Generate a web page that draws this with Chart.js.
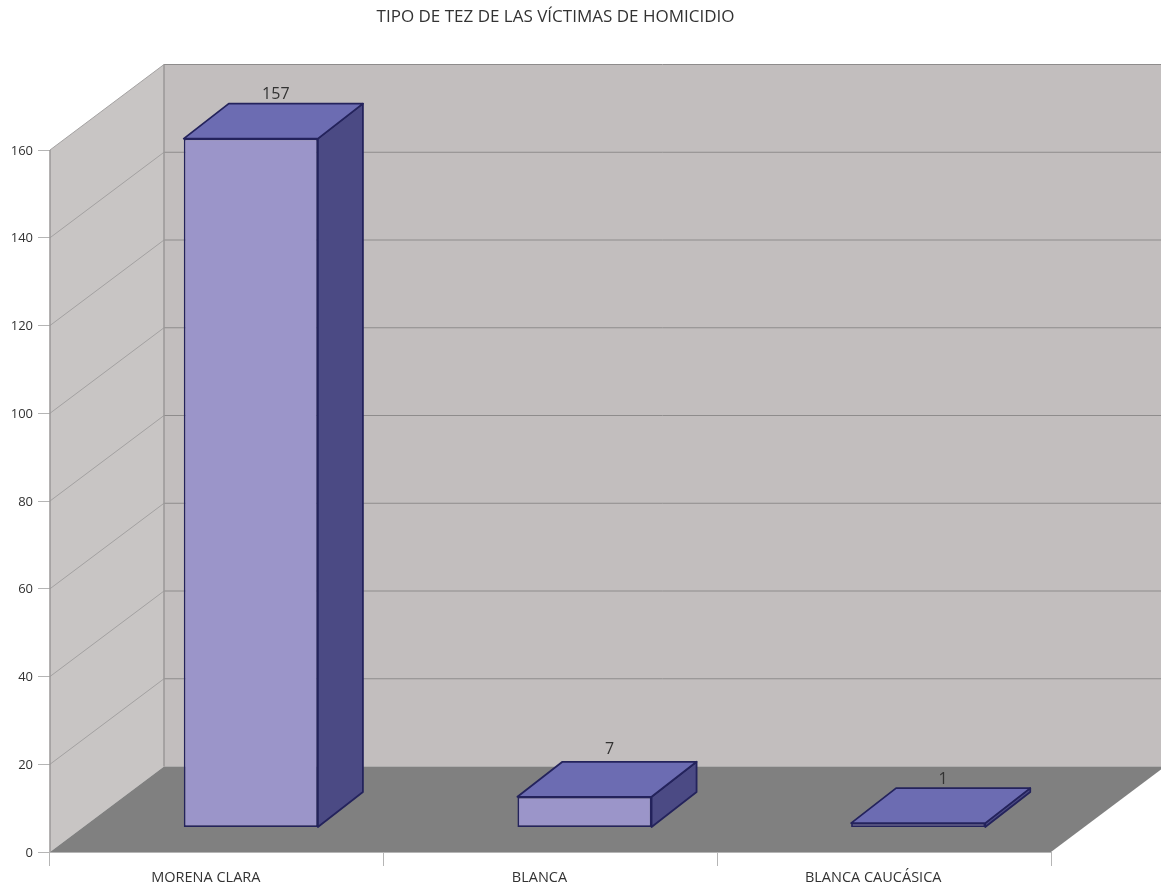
<!DOCTYPE html>
<html>
<head>
<meta charset="utf-8">
<title>Tipo de tez</title>
<script src="https://cdn.jsdelivr.net/npm/chart.js@4"></script>
<style>
  html, body { margin: 0; background: #fff; }
  canvas { display: block; }
</style>
</head>
<body>
<canvas id="chart" width="1161" height="888"></canvas>
<script>
const titleText = "TIPO DE TEZ DE LAS VÍCTIMAS DE HOMICIDIO";
const categories = ["MORENA CLARA", "BLANCA", "BLANCA CAUCÁSICA"];
const victimas = [157, 7, 1];
const tickStep = 20;
const tickMax = 160;

// Profundidad de la caja del grafico y de cada barra
const BOX_DX = 114, BOX_DY = -85.5;
const BAR_SHIFT_X = 34, BAR_SHIFT_Y = -24.5;
const BAR_DX = 45, BAR_DY = -35;
const LABEL_FONT = "'Open Sans', sans-serif";
// Ajuste fino de la etiqueta de cada barra
const labelLift = [2, 5, 1];

function poly(ctx, pts, fill, stroke, lineWidth) {
    ctx.beginPath();
    pts.forEach((p, i) => i ? ctx.lineTo(p[0], p[1]) : ctx.moveTo(p[0], p[1]));
    ctx.closePath();
    ctx.fillStyle = fill;
    ctx.fill();
    if (stroke) {
        ctx.strokeStyle = stroke;
        ctx.lineWidth = lineWidth;
        ctx.lineJoin = "round";
        ctx.stroke();
    }
}

// Paredes, piso y lineas de la cuadricula
const boxPlugin = {
    id: "box3d",
    afterLayout(chart) {
        // el titulo va un poco a la derecha del centro del area
        chart.titleBlock.left += 5;
        chart.titleBlock.right += 5;
    },
    beforeDatasetsDraw(chart) {
        const { ctx, scales: { x, y } } = chart;
        const l = x.left, r = x.right, b = y.bottom, t = y.top;
        const bl = l + BOX_DX, br = r + BOX_DX, bb = b + BOX_DY, bt = t + BOX_DY;
        ctx.save();
        poly(ctx, [[l, b], [bl, bb], [bl, bt], [l, t]], "#c8c5c4");
        poly(ctx, [[bl, bt], [chart.width, bt], [chart.width, bb], [bl, bb]], "#c2bebe");
        poly(ctx, [[l, b], [r, b], [br, bb], [bl, bb]], "#808080");

        ctx.lineWidth = 1;
        y.ticks.forEach(tick => {
            if (tick.value === 0) return;
            const py = y.getPixelForValue(tick.value);
            ctx.strokeStyle = "#a3a1a1";
            ctx.beginPath();
            ctx.moveTo(l, py);
            ctx.lineTo(bl, py + BOX_DY);
            ctx.stroke();
            ctx.strokeStyle = "#8e8c8c";
            ctx.beginPath();
            ctx.moveTo(bl, py + BOX_DY);
            ctx.lineTo(chart.width, py + BOX_DY);
            ctx.stroke();
        });
        // aristas de la caja
        ctx.strokeStyle = "#9a9898";
        ctx.lineWidth = 1.5;
        ctx.beginPath();
        ctx.moveTo(l, b);
        ctx.lineTo(l, t);
        ctx.moveTo(bl, bb);
        ctx.lineTo(bl, bt);
        ctx.stroke();
        ctx.restore();
    },
    // La barra de Chart.js es la cara frontal; las otras dos caras salen de ella
    beforeDatasetDraw(chart, args) {
        const { ctx } = chart;
        ctx.save();
        ctx.translate(BAR_SHIFT_X, BAR_SHIFT_Y);
        args.meta.data.forEach(bar => {
            const x0 = bar.x - bar.width / 2, x1 = bar.x + bar.width / 2;
            poly(ctx, [[x1, bar.y], [x1 + BAR_DX, bar.y + BAR_DY], [x1 + BAR_DX, bar.base + BAR_DY], [x1, bar.base]], "#4b4a84", "#24235c", 1.8);
            poly(ctx, [[x0, bar.y], [x0 + BAR_DX, bar.y + BAR_DY], [x1 + BAR_DX, bar.y + BAR_DY], [x1, bar.y]], "#6c6cb2", "#24235c", 1.8);
        });
    },
    afterDatasetDraw(chart) {
        chart.ctx.restore();
    },
    // Valores encima de cada barra
    afterDatasetsDraw(chart) {
        const { ctx } = chart;
        const bars = chart.getDatasetMeta(0).data;
        ctx.save();
        ctx.font = "16px " + LABEL_FONT;
        ctx.fillStyle = "#333";
        ctx.textAlign = "center";
        ctx.textBaseline = "alphabetic";
        bars.forEach((bar, i) => {
            const cx = bar.x + BAR_SHIFT_X + 25;
            const top = bar.y + BAR_SHIFT_Y + BAR_DY;
            ctx.fillText(victimas[i], cx, top - 3 - labelLift[i]);
        });
        ctx.restore();
    }
};

new Chart(document.getElementById("chart"), {
    type: "bar",
    plugins: [boxPlugin],
    data: {
        labels: categories,
        datasets: [{
            data: victimas,
            backgroundColor: "#9b95c9",
            borderColor: "#24235c",
            borderWidth: 1.7,
            borderSkipped: false,
            barPercentage: 0.402,
            categoryPercentage: 1,
            clip: false
        }]
    },
    options: {
        responsive: false,
        animation: false,
        layout: { padding: { top: 0, left: 0, right: 110, bottom: 0 } },
        plugins: {
            legend: { display: false },
            tooltip: { enabled: false },
            title: {
                display: true,
                text: titleText,
                fullSize: false,
                color: "#333",
                font: { family: LABEL_FONT, size: 17, weight: "normal", lineHeight: 1.2 },
                padding: { top: 7, bottom: 122.6 }
            }
        },
        scales: {
            x: {
                afterFit(scale) { scale.height = 36; },
                grid: { drawOnChartArea: false, tickLength: 14, color: "#b5b5b5", offset: true },
                border: { color: "#b5b5b5" },
                ticks: {
                    color: "#333",
                    font: { family: LABEL_FONT, size: 14.5 },
                    padding: 3,
                    labelOffset: -11,
                    maxRotation: 0,
                    autoSkip: false
                }
            },
            y: {
                min: 0,
                max: tickMax,
                afterFit(scale) { scale.width = 50; },
                grid: { drawOnChartArea: false, tickLength: 12, color: "#b5b5b5" },
                border: { display: false },
                ticks: {
                    stepSize: tickStep,
                    color: "#333",
                    font: { family: LABEL_FONT, size: 13 },
                    padding: 5,
                    labelOffset: 1
                }
            }
        }
    }
});
</script>
</body>
</html>
